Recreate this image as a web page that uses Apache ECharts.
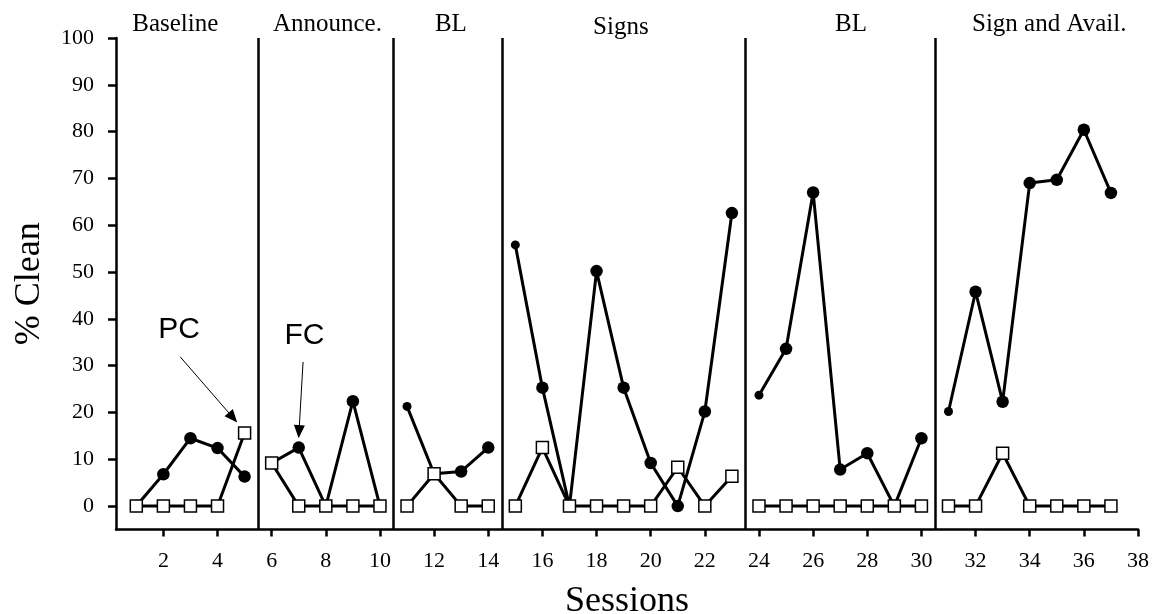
<!DOCTYPE html>
<html>
<head>
<meta charset="utf-8">
<script src="https://cdn.jsdelivr.net/npm/echarts@6/dist/echarts.min.js"></script>
<style>
  html, body { margin: 0; padding: 0; background: #fff; }
  #chart { width: 1153px; height: 614px; }
</style>
</head>
<body>
<div id="chart"></div>
<script>
// sessions and % clean values
const sessions = [1, 2, 3, 4, 5, 6, 7, 8, 9, 10, 11, 12, 13, 14, 15, 16, 17, 18, 19,
  20, 21, 22, 23, 24, 25, 26, 27, 28, 29, 30, 31, 32, 33, 34, 35, 36, 37]
const pcClean = [0, 6.8, 14.5, 12.4, 6.3, 9.2, 12.5, 0, 22.4, 0, 21.3, 6.9, 7.4, 12.5,
  55.8, 25.3, 0, 50.2, 25.3, 9.2, 0, 20.2, 62.6, 23.7, 33.6, 67.0, 7.8, 11.3, 0, 14.5,
  20.2, 45.8, 22.3, 69.0, 69.7, 80.4, 66.9]
const fcClean = [0, 0, 0, 0, 15.6, 9.2, 0, 0, 0, 0, 0, 6.9, 0, 0,
  0, 12.5, 0, 0, 0, 0, 8.3, 0, 6.4, 0, 0, 0, 0, 0, 0, 0,
  0, 0, 11.3, 0, 0, 0, 0]
const phaseNames = ['Baseline', 'Announce.', 'BL', 'Signs', 'BL', 'Sign and Avail.']
const phaseStarts = [1, 6, 11, 15, 24, 31]
const phaseLines = [5.5, 10.5, 14.5, 23.5, 30.5]
const xTicks = [2, 4, 6, 8, 10, 12, 14, 16, 18, 20, 22, 24, 26, 28, 30, 32, 34, 36, 38]
const yTicks = [0, 10, 20, 30, 40, 50, 60, 70, 80, 90, 100]

// layout of the annotations (data coordinates)
const phaseLabelX = [2.44, 8.06, 12.62, 18.9, 27.4, 34.72]
const serif = 'Liberation Serif'

// insert a gap between phases so the lines break
const withBreaks = (values) => {
  const out = []
  sessions.forEach((s, i) => {
    if (i > 0 && phaseStarts.includes(s)) out.push([s - 0.5, '-'])
    out.push([s, values[i]])
  })
  return out
}

const chart = echarts.init(document.getElementById('chart'))

const option = {
  animation: false,
  grid: { left: 116, right: 15, top: 38, bottom: 84.5, containLabel: false, outerBoundsMode: 'none' },
  xAxis: {
    type: 'value',
    min: 0.25,
    max: 38,
    name: 'Sessions',
    nameLocation: 'middle',
    nameGap: 54,
    nameTextStyle: { fontFamily: serif, fontSize: 36, color: '#000' },
    axisLine: { show: true, onZero: false, lineStyle: { color: '#000', width: 2.5 } },
    axisTick: { show: true, length: 7, lineStyle: { color: '#000', width: 2.5 }, customValues: xTicks },
    axisLabel: { fontFamily: serif, fontSize: 22, color: '#000', margin: 21, customValues: xTicks },
    splitLine: { show: false }
  },
  yAxis: {
    type: 'value',
    min: -5,
    max: 100,
    name: '% Clean',
    nameLocation: 'middle',
    nameGap: 68,
    nameTextStyle: { fontFamily: serif, fontSize: 36, color: '#000' },
    axisLine: { show: true, onZero: false, lineStyle: { color: '#000', width: 2.5 } },
    axisTick: { show: true, length: 8, lineStyle: { color: '#000', width: 2.5 }, customValues: yTicks },
    axisLabel: { fontFamily: serif, fontSize: 22, color: '#000', margin: 22, customValues: yTicks },
    splitLine: { show: false }
  },
  series: [
    {
      name: 'PC',
      type: 'line',
      clip: false,
      data: withBreaks(pcClean),
      connectNulls: false,
      symbol: 'circle',
      symbolSize: (val) => (val[0] > 1 && phaseStarts.includes(val[0]) ? 9 : 12.5),
      lineStyle: { color: '#000', width: 3 },
      itemStyle: { color: '#000' },
      z: 3,
      markLine: {
        silent: true,
        symbol: 'none',
        label: { show: false },
        lineStyle: { color: '#000', width: 2.5, type: 'solid' },
        data: phaseLines.map((x) => [{ coord: [x, -5] }, { coord: [x, 100] }])
      }
    },
    {
      name: 'FC',
      type: 'line',
      clip: false,
      data: withBreaks(fcClean),
      connectNulls: false,
      symbol: 'rect',
      symbolSize: 12,
      lineStyle: { color: '#000', width: 3 },
      itemStyle: { color: '#fff', borderColor: '#000', borderWidth: 1.5 },
      z: 4,
      markLine: {
        silent: true,
        label: { show: false },
        symbolSize: [11, 13],
        lineStyle: { color: '#000', width: 1, type: 'solid' },
        data: [
          [{ coord: [2.62, 31.9], symbol: 'none' }, { coord: [4.57, 18.9], symbol: 'triangle' }],
          [{ coord: [7.16, 30.8], symbol: 'none' }, { coord: [7.01, 15.9], symbol: 'triangle' }]
        ]
      }
    }
  ]
}

chart.setOption(option)

// text annotations placed through the chart's own scales
const toPx = (p) => chart.convertToPixel({ gridIndex: 0 }, p)
const graphic = phaseNames.map((name, i) => ({
  type: 'text',
  x: toPx([phaseLabelX[i], 0])[0],
  y: i === 3 ? 27 : 24,
  style: {
    text: name,
    fontFamily: serif,
    fontSize: 25,
    fill: '#000',
    align: 'center',
    verticalAlign: 'middle'
  }
}))
const notes = [['PC', 2.58, 37.6], ['FC', 7.21, 36.4]]
notes.forEach(([t, x, y]) => {
  const p = toPx([x, y])
  graphic.push({
    type: 'text',
    x: p[0],
    y: p[1],
    style: {
      text: t,
      fontFamily: 'Liberation Sans',
      fontSize: 30,
      fill: '#000',
      align: 'center',
      verticalAlign: 'middle'
    }
  })
})
chart.setOption({ graphic })
</script>
</body>
</html>
